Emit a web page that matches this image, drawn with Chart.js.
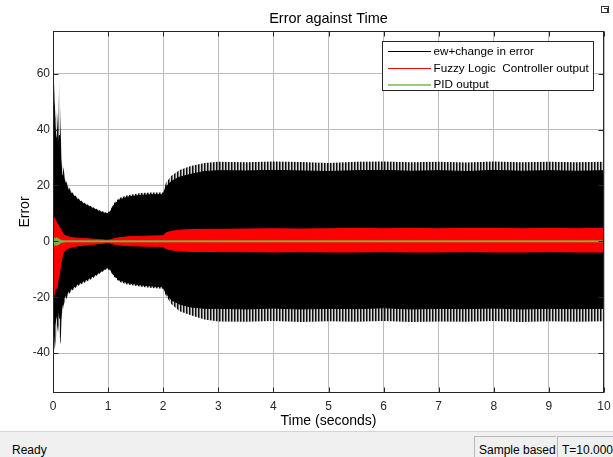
<!DOCTYPE html>
<html>
<head>
<meta charset="utf-8">
<title>Error against Time</title>
<script src="https://cdn.jsdelivr.net/npm/chart.js@4.4.1/dist/chart.umd.min.js"></script>
<style>
  html, body { margin: 0; padding: 0; background: #fff; width: 613px; height: 457px; overflow: hidden;
    font-family: 'Liberation Sans', Arial, sans-serif; }
  #plot { position: absolute; left: 0; top: 0; }
  #undock { position: absolute; left: 601px; top: 6px; width: 8px; height: 7px; border: 1px solid #333; box-sizing: border-box; }
  #undock:after { content: ''; position: absolute; left: 2px; top: 1px; width: 3px; height: 3px; border-top: 1px solid #333; border-right: 1px solid #333; }
  #status { position: absolute; left: 0; top: 431px; width: 613px; height: 26px; background: #f0f0f0;
    border-top: 1px solid #d4d4d4; box-sizing: border-box; font-size: 12px; color: #000; }
  #status .ready { position: absolute; left: 12px; top: 11px; }
  #status .box { position: absolute; top: 4px; height: 22px; border-left: 1px solid #b9b9b9; border-top: 1px solid #b9b9b9;
    box-sizing: border-box; padding: 6px 0 0 4px; white-space: nowrap; overflow: hidden; }
</style>
</head>
<body>
<canvas id="plot" width="613" height="431"></canvas>
<div id="undock"></div>
<div id="status">
  <span class="ready">Ready</span>
  <div class="box" style="left:474px;width:82px">Sample based</div>
  <div class="box" style="left:557px;width:56px">T=10.000</div>
</div>
<script>
// sample instants (s)
const times = [
  0, 0.01, 0.03, 0.05, 0.07, 0.09, 0.115, 0.135, 0.16, 0.19,
  0.23, 0.28, 0.35, 0.45, 0.55, 0.7, 0.85, 0.98, 1.04, 1.1,
  1.2, 1.35, 1.6, 1.8, 2.0, 2.05, 2.15, 2.3, 2.5, 2.75,
  3.0, 3.5, 4.0, 4.5, 5.0, 5.5, 6.0, 6.5, 7.0, 7.5,
  8.0, 8.5, 9.0, 9.5, 10.0
];

// ew+change in error: peak envelope and dense body
const errUpperPeak = [
  50, 62, 50, 44, 47, 40, 58, 42, 28, 26,
  22, 19.5, 17.5, 15.5, 14, 12.5, 11, 10.2, 11, 13.5,
  15.5, 16.5, 17.3, 17.5, 17.5, 21, 23.5, 25.5, 27, 28,
  28.5, 28.3, 28.6, 28.4, 28, 28.5, 28.6, 28.3, 28.5, 28.2,
  28.6, 28.3, 28.5, 28.3, 28.5
];
const errLowerPeak = [
  -25, -30, -39, -36, -33, -30, -34, -37, -28, -23,
  -21, -19, -17.5, -16, -15, -13.5, -11.5, -9.8, -10.5, -12.5,
  -14.5, -15.5, -16.3, -16.7, -17, -19.5, -22.5, -25, -26.5, -28,
  -28.7, -28.8, -28.5, -28.9, -28.6, -28.8, -28.5, -28.9, -28.7, -28.8,
  -28.5, -28.9, -28.6, -28.8, -28.6
];
const errUpper = [
  40, 46, 42, 38, 36, 34, 38, 30, 24, 23,
  20.5, 18.5, 16.8, 15, 13.5, 12, 10.6, 9.8, 10.5, 12.8,
  14.8, 15.8, 16.5, 16.7, 16.7, 19.5, 21.5, 23, 24, 25,
  25.3, 25.2, 25.4, 25.2, 25, 25.3, 25.4, 25.1, 25.3, 25,
  25.4, 25.1, 25.3, 25.1, 25.3
];
const errLower = [
  -20, -25, -30, -28, -26, -24, -27, -28, -24, -20.5,
  -19.5, -18, -16.8, -15.3, -14.3, -12.8, -11, -9.4, -10, -12,
  -13.8, -14.8, -15.6, -16, -16.3, -18.5, -21, -22.5, -23.5, -24,
  -24, -24.2, -23.9, -24.2, -24, -24.1, -23.8, -24.2, -24, -24.1,
  -23.9, -24.2, -24, -24.1, -24
];

// Fuzzy Logic Controller output envelope
const fuzzyUpper = [
  6, 8.9, 8, 7.5, 6.5, 6, 5, 4.5, 3.5, 2.5,
  2, 1.6, 1.3, 1.1, 1, 0.8, 0.6, 0.4, 0.5, 0.9,
  1.3, 1.6, 1.8, 1.9, 2, 3, 3.6, 4, 4.2, 4.3,
  4.3, 4.4, 4.5, 4.4, 4.5, 4.6, 4.5, 4.6, 4.5, 4.6,
  4.6, 4.5, 4.6, 4.5, 4.6
];
const fuzzyLower = [
  -12, -20, -18, -16, -17, -14, -12, -9, -6, -4,
  -3, -2.4, -2, -1.6, -1.4, -1.1, -0.8, -0.5, -0.6, -1,
  -1.3, -1.5, -1.7, -1.8, -1.8, -2.6, -3.1, -3.4, -3.6, -3.6,
  -3.7, -3.7, -3.8, -3.7, -3.8, -3.8, -3.7, -3.8, -3.8, -3.7,
  -3.8, -3.8, -3.7, -3.8, -3.8
];

// PID output envelope
const pidUpper = [
  1.0, 1.3, 1.2, 1.1, 1.3, 1.0, 0.8, 0.5, 0.35, 0.25,
  0.2, 0.2, 0.2, 0.2, 0.2, 0.2, 0.2, 0.2, 0.2, 0.2,
  0.2, 0.2, 0.2, 0.2, 0.2, 0.2, 0.2, 0.2, 0.2, 0.2,
  0.2, 0.2, 0.2, 0.2, 0.2, 0.2, 0.2, 0.2, 0.2, 0.2,
  0.2, 0.2, 0.2, 0.2, 0.2
];
const pidLower = [
  -1.2, -1.5, -1.4, -1.3, -1.4, -1.2, -1.0, -0.6, -0.4, -0.3,
  -0.2, -0.2, -0.2, -0.2, -0.2, -0.2, -0.2, -0.2, -0.2, -0.2,
  -0.2, -0.2, -0.2, -0.2, -0.2, -0.2, -0.2, -0.2, -0.2, -0.2,
  -0.2, -0.2, -0.2, -0.2, -0.2, -0.2, -0.2, -0.2, -0.2, -0.2,
  -0.2, -0.2, -0.2, -0.2, -0.2
];

const xTicks = [0, 1, 2, 3, 4, 5, 6, 7, 8, 9, 10];
const yTicks = [-40, -20, 0, 20, 40, 60];
const seriesNames = ['ew+change in error', 'Fuzzy Logic  Controller output', 'PID output'];
const seriesColors = ['#000000', '#ff0000', '#7fae45'];
const legendColors = ['#000000', '#ff0000', '#9cca72'];

const FONT = "'Liberation Sans', Arial, sans-serif";

// vertical hatching for the ragged tips of the fast oscillation
const hatch = (() => {
  const c = document.createElement('canvas');
  c.width = 3; c.height = 1;
  const g = c.getContext('2d');
  g.fillStyle = 'rgba(0,0,0,0.95)'; g.fillRect(0, 0, 1, 1);
  g.fillStyle = 'rgba(0,0,0,0.55)'; g.fillRect(1, 0, 1, 1);
  g.fillStyle = 'rgba(0,0,0,0.15)'; g.fillRect(2, 0, 1, 1);
  return g.createPattern(c, 'repeat');
})();

const toPoints = (vals) => times.map((t, i) => ({ x: t, y: vals[i] }));

// two datasets per band: upper edge, then lower edge filled up to it
const band = (upper, lower, target, fill, line, width, order) => [
  { data: toPoints(upper), borderColor: line, borderWidth: width, fill: false, order },
  { data: toPoints(lower), borderColor: line, borderWidth: width, backgroundColor: fill, fill: target, order }
];

const datasets = [
  ...band(errUpperPeak, errLowerPeak, 0, hatch, 'rgba(0,0,0,0)', 0, 4),
  ...band(errUpper, errLower, 2, '#000000', '#000000', 1, 3),
  ...band(fuzzyUpper, fuzzyLower, 4, '#ff0000', '#ff0000', 1, 2),
  ...band(pidUpper, pidLower, 6, seriesColors[2], seriesColors[2], 0.8, 1)
];

// frame, inward ticks, titles and the boxed legend
const scopeDecor = {
  id: 'scopeDecor',
  afterDraw(chart) {
    const { ctx, chartArea: a, scales: { x, y } } = chart;
    const L = Math.round(a.left) + 0.5, R = Math.round(a.right) - 0.5;
    const T = Math.round(a.top) + 0.5, B = Math.round(a.bottom) - 0.5;
    ctx.save();
    ctx.strokeStyle = '#262626';
    ctx.lineWidth = 1;
    ctx.strokeRect(L, T, R - L, B - T);

    const tl = 5;
    ctx.beginPath();
    xTicks.forEach(v => {
      const px = Math.round(x.getPixelForValue(v)) + 0.5;
      ctx.moveTo(px, B); ctx.lineTo(px, B - tl);
      ctx.moveTo(px, T); ctx.lineTo(px, T + tl);
    });
    yTicks.forEach(v => {
      const py = Math.round(y.getPixelForValue(v)) + 0.5;
      ctx.moveTo(L, py); ctx.lineTo(L + tl, py);
      ctx.moveTo(R, py); ctx.lineTo(R - tl, py);
    });
    ctx.stroke();

    ctx.fillStyle = '#000';
    ctx.textAlign = 'center';
    ctx.textBaseline = 'middle';
    ctx.font = `14.5px ${FONT}`;
    ctx.fillText('Error against Time', (a.left + a.right) / 2, 19);
    ctx.font = `14px ${FONT}`;
    ctx.fillText('Time (seconds)', (a.left + a.right) / 2, 421);
    ctx.save();
    ctx.translate(25, (a.top + a.bottom) / 2);
    ctx.rotate(-Math.PI / 2);
    ctx.fillText('Error', 0, 0);
    ctx.restore();

    // legend
    ctx.font = `11.7px ${FONT}`;
    const textW = Math.max(...seriesNames.map(s => ctx.measureText(s).width));
    const lw = Math.round(5 + 43 + 3 + textW + 5), lh = 49;
    const lx = Math.round(a.right - 11 - lw) + 0.5, ly = Math.round(a.top + 10) + 0.5;
    ctx.fillStyle = '#fff';
    ctx.fillRect(lx, ly, lw, lh);
    ctx.strokeStyle = '#262626';
    ctx.strokeRect(lx, ly, lw, lh);
    ctx.textAlign = 'left';
    seriesNames.forEach((name, i) => {
      const ry = Math.round(ly + 9.5 + i * 16.5);
      ctx.fillStyle = legendColors[i];
      ctx.fillRect(Math.round(lx + 5), ry, 43, i === 2 ? 2 : 1);
      ctx.fillStyle = '#000';
      ctx.fillText(name, lx + 51, ry + 1);
    });
    ctx.restore();
  }
};

const tickFont = { family: FONT, size: 12 };

new Chart(document.getElementById('plot'), {
  type: 'line',
  data: { datasets },
  plugins: [scopeDecor],
  options: {
    responsive: false,
    animation: false,
    events: [],
    layout: { padding: { top: 31, right: 9, left: 0, bottom: 0 } },
    elements: { point: { radius: 0 }, line: { tension: 0 } },
    plugins: { legend: { display: false }, tooltip: { enabled: false }, title: { display: false } },
    scales: {
      x: {
        type: 'linear', min: 0, max: 10,
        afterBuildTicks: s => { s.ticks = xTicks.map(v => ({ value: v })); },
        afterFit: s => { s.height = 38; s.paddingLeft = 0; s.paddingRight = 0; },
        grid: { color: '#bdbdbd', drawTicks: false },
        border: { display: false },
        ticks: { padding: 6, color: '#262626', font: tickFont, maxRotation: 0, autoSkip: false }
      },
      y: {
        type: 'linear', min: -54.3, max: 75.3,
        afterBuildTicks: s => { s.ticks = yTicks.map(v => ({ value: v })); },
        afterFit: s => { s.width = 53; s.paddingTop = 0; s.paddingBottom = 0; },
        grid: { color: '#bdbdbd', drawTicks: false },
        border: { display: false },
        ticks: { padding: 3, color: '#262626', font: tickFont, autoSkip: false }
      }
    }
  }
});
</script>
</body>
</html>
